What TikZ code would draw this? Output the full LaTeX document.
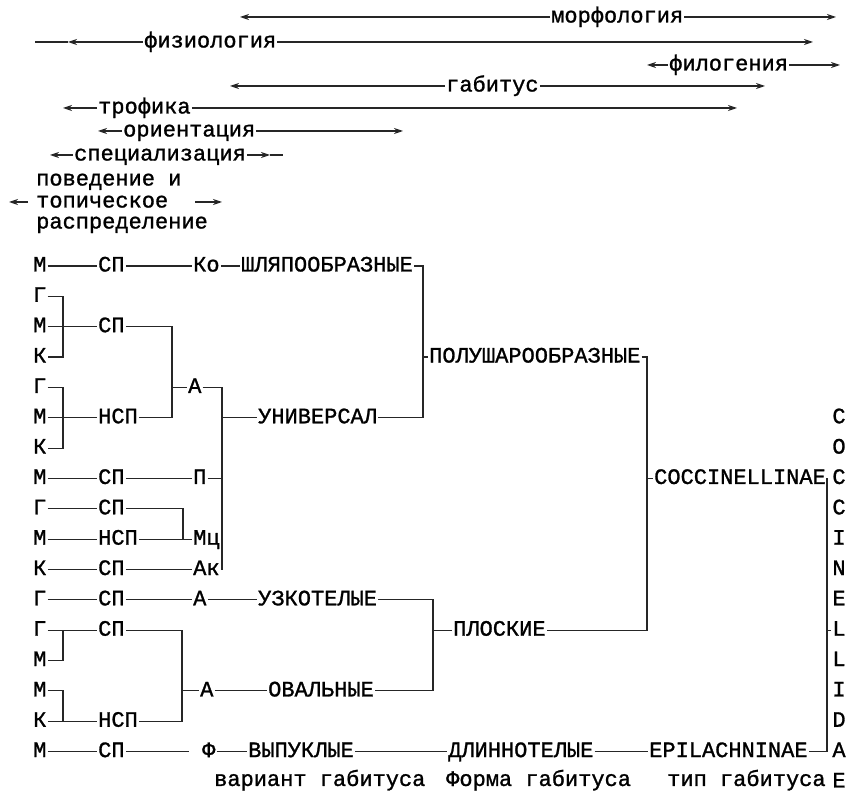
\documentclass[tikz,border=0pt]{standalone}
\usepackage{fontspec}
\newfontfamily\typefont[FakeBold=1.2]{Liberation Mono}
\usepackage{tikz}
\usetikzlibrary{positioning,arrows.meta}
\tikzset{
  cell/.style={
    font=\typefont\fontsize{22}{24}\selectfont,
    inner sep=1pt,
    anchor=west,
    text height=11pt,
    text depth=0pt
  },
  link/.style={
    line width=1.1pt,
    black!85
  },
  spanline/.style={
    -{Stealth[length=9pt,width=6pt]},
    line width=1.1pt,
    black!85
  }
}

\begin{document}
\begin{tikzpicture}[x=1pt,y=-1pt]
\useasboundingbox (0,0) rectangle (851,791);

% ranges of characters
\node[cell] (morf) at (550,17) {морфология};
\coordinate (morfL) at (240,17);
\coordinate (morfR) at (836,17);
\draw[spanline] (morf.west) -- (morfL);
\draw[spanline] (morf.east) -- (morfR);

\node[cell] (fiz) at (143,42) {физиология};
\coordinate (fizA) at (68,42);
\coordinate (fizL) at (35,42);
\coordinate (fizR) at (813,42);
\draw[spanline] (fiz.west) -- (fizA);
\draw[link] (fizA) -- (fizL);
\draw[spanline] (fiz.east) -- (fizR);

\node[cell] (filo) at (668,65) {филогения};
\coordinate (filoL) at (647,65);
\coordinate (filoR) at (840,65);
\draw[spanline] (filo.west) -- (filoL);
\draw[spanline] (filo.east) -- (filoR);

\node[cell] (gab) at (445,86) {габитус};
\coordinate (gabL) at (230,86);
\coordinate (gabR) at (765,86);
\draw[spanline] (gab.west) -- (gabL);
\draw[spanline] (gab.east) -- (gabR);

\node[cell] (trof) at (97,108) {трофика};
\coordinate (trofL) at (63,108);
\coordinate (trofR) at (737,108);
\draw[spanline] (trof.west) -- (trofL);
\draw[spanline] (trof.east) -- (trofR);

\node[cell] (orient) at (122,131) {ориентация};
\coordinate (orientL) at (98,131);
\coordinate (orientR) at (403,131);
\draw[spanline] (orient.west) -- (orientL);
\draw[spanline] (orient.east) -- (orientR);

\node[cell] (spec) at (73,155) {специализация};
\coordinate (specL) at (50,155);
\coordinate (specA) at (270,155);
\coordinate (specR) at (283,155);
\draw[spanline] (spec.west) -- (specL);
\draw[spanline] (spec.east) -- (specA);
\draw[link] (specA) -- (specR);

\node[cell] (beh1) at (35,180) {поведение и};
\node[cell] (beh2) at (35,202) {топическое};
\node[cell] (beh3) at (35,223) {распределение};
\coordinate (behL) at (9,202);
\coordinate (behR) at (222,202);
\draw[spanline, shorten <=7pt] (beh2.west) -- (behL);
\draw[spanline, shorten <=26pt] (beh2.east) -- (behR);

% the tree, one row per typed line
\begin{scope}[yshift=-235.65pt, y=-30.35pt]

\node[cell] (m1) at (32,1) {М};
\node[cell] (sp1) at (97,1) {СП};
\node[cell] (ko1) at (192,1) {Ко};
\node[cell] (shl) at (240,1) {ШЛЯПООБРАЗНЫЕ};

\node[cell] (g2) at (32,2) {Г};
\node[cell] (m3) at (32,3) {М};
\node[cell] (sp3) at (97,3) {СП};
\node[cell] (k4) at (32,4) {К};
\node[cell] (polu) at (428,4) {ПОЛУШАРООБРАЗНЫЕ};

\node[cell] (g5) at (32,5) {Г};
\node[cell] (a5) at (187,5) {А};
\node[cell] (m6) at (32,6) {М};
\node[cell] (nsp6) at (97,6) {НСП};
\node[cell] (univ) at (257,6) {УНИВЕРСАЛ};
\node[cell] (k7) at (32,7) {К};

\node[cell] (m8) at (32,8) {М};
\node[cell] (sp8) at (97,8) {СП};
\node[cell] (p8) at (192,8) {П};
\node[cell] (cocc) at (653,8) {COCCINELLINAE};

\node[cell] (g9) at (32,9) {Г};
\node[cell] (sp9) at (97,9) {СП};
\node[cell] (m10) at (32,10) {М};
\node[cell] (nsp10) at (97,10) {НСП};
\node[cell] (mc10) at (192,10) {Мц};
\node[cell] (k11) at (32,11) {К};
\node[cell] (sp11) at (97,11) {СП};
\node[cell] (ak11) at (192,11) {Ак};

\node[cell] (g12) at (32,12) {Г};
\node[cell] (sp12) at (97,12) {СП};
\node[cell] (a12) at (192,12) {А};
\node[cell] (uzko) at (257,12) {УЗКОТЕЛЫЕ};

\node[cell] (g13) at (32,13) {Г};
\node[cell] (sp13) at (97,13) {СП};
\node[cell] (plosk) at (452,13) {ПЛОСКИЕ};
\node[cell] (m14) at (32,14) {М};
\node[cell] (m15) at (32,15) {М};
\node[cell] (a15) at (199,15) {А};
\node[cell] (oval) at (267,15) {ОВАЛЬНЫЕ};
\node[cell] (k16) at (32,16) {К};
\node[cell] (nsp16) at (97,16) {НСП};

\node[cell] (m17) at (32,17) {М};
\node[cell] (sp17) at (97,17) {СП};
\node[cell] (phi) at (201,17) {Ф};
\node[cell] (vyp) at (247,17) {ВЫПУКЛЫЕ};
\node[cell] (dlin) at (447,17) {ДЛИННОТЕЛЫЕ};
\node[cell] (epil) at (648,17) {EPILACHNINAE};

\node[cell] (var) at (213,17.95) {вариант габитуса};
\node[cell] (form) at (445,17.95) {Форма габитуса};
\node[cell] (tip) at (666,17.95) {тип габитуса};

\foreach \ltr [count=\i from 6] in {C,O,C,C,I,N,E,L,L,I,D,A,E}
  \node[cell, anchor=center] (fam\i) at (839,\i) {\ltr};

% junctions
\coordinate (a1) at (63,3);
\coordinate (a2) at (63,6);
\coordinate (a3) at (63,13);
\coordinate (a4) at (63,16);
\coordinate (b1) at (172,5);
\coordinate (c1) at (222,6);
\coordinate (e1) at (183,10);
\coordinate (h1) at (182,15);
\coordinate (j1) at (423,4);
\coordinate (f1) at (433,13);
\coordinate (g1) at (647,8);
\coordinate (k1) at (827,13);

\draw[link] (m1) -- (sp1) -- (ko1) -- (shl);
\draw[link] (g2.east) -| (a1) |- (k4.east);
\draw[link] (m3) -- (sp3);
\draw[link] (sp3.east) -| (b1) |- (nsp6.east);
\draw[link] (b1) -- (a5);
\draw[link] (g5.east) -| (a2) |- (k7.east);
\draw[link] (m6) -- (nsp6);
\draw[link] (a5.east) -| (c1) |- (ak11.east);
\draw[link] (c1) -- (univ);
\draw[link] (m8) -- (sp8) -- (p8);
\draw[link] (p8) -- (p8 -| c1);
\draw[link] (g9) -- (sp9);
\draw[link] (sp9.east) -| (e1);
\draw[link] (m10) -- (nsp10) -- (mc10);
\draw[link] (mc10) -- (mc10 -| c1);
\draw[link] (k11) -- (sp11) -- (ak11);
\draw[link] (shl.east) -| (j1) |- (univ.east);
\draw[link] (j1) -- (polu);

\draw[link] (g12) -- (sp12) -- (a12) -- (uzko);
\draw[link] (g13) -- (sp13);
\draw[link] (a3) |- (m14.east);
\draw[link] (sp13.east) -| (h1) |- (nsp16.east);
\draw[link] (m15.east) -| (a4);
\draw[link] (k16) -- (nsp16);
\draw[link] (h1) -- (a15) -- (oval);
\draw[link] (uzko.east) -| (f1) |- (oval.east);
\draw[link] (f1) -- (plosk);

\draw[link] (polu.east) -| (g1) |- (plosk.east);
\draw[link] (g1) -- (cocc);

\draw[link] (m17) -- (sp17);
\draw[link, shorten >=12pt] (sp17) -- (phi);
\draw[link] (phi) -- (vyp) -- (dlin) -- (epil);
\draw[link] (cocc.east) -| (k1) |- (epil.east);
\draw[link] (k1) -- (fam13);

\end{scope}
\end{tikzpicture}
\end{document}
